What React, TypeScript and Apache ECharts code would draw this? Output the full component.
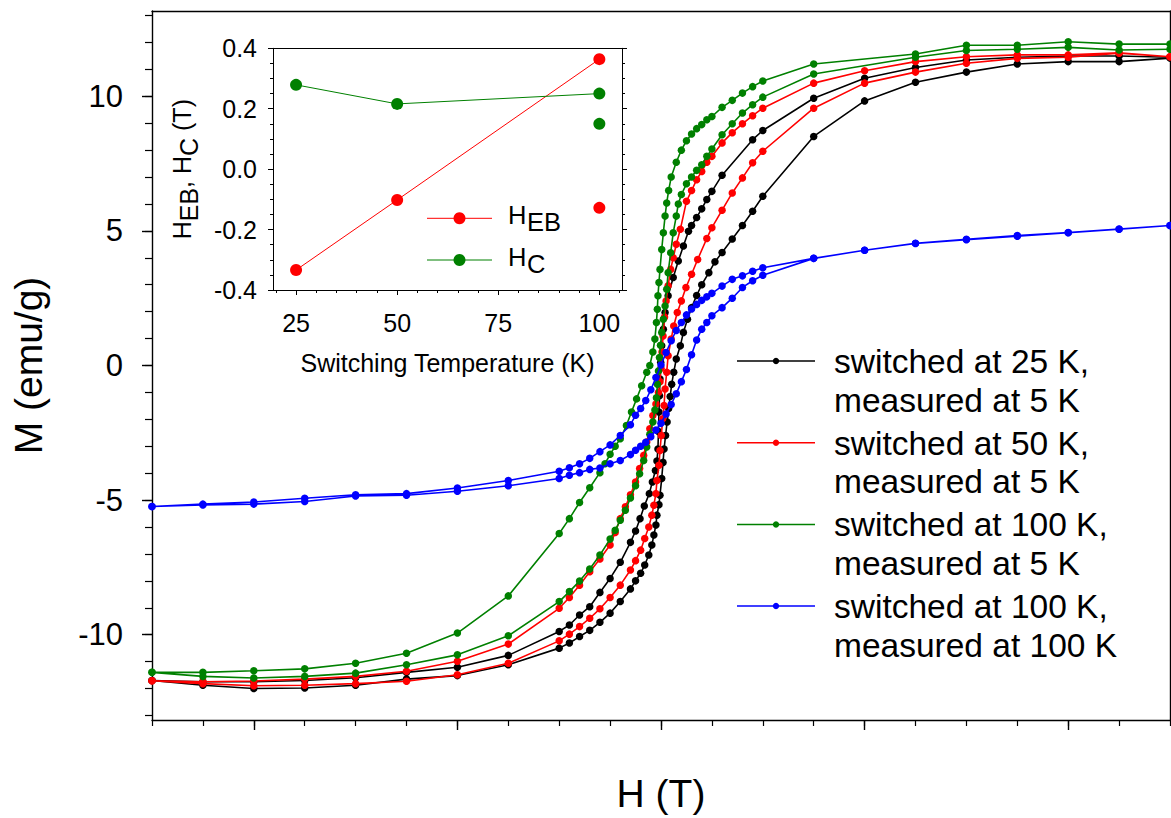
import React, { useEffect, useRef } from 'react';
import * as echarts from 'echarts';

const FONT = '"Liberation Sans", Arial, Helvetica, sans-serif';

type P = [number, number];

// ---- main plot data: H (T), M (emu/g) ----
const blackDown: P[] = [
  [5, 11.45], [4.5, 11.5], [4, 11.5], [3.5, 11.45], [3, 11.35], [2.5, 11.07], [2, 10.67], [1.5, 9.93],
  [1, 8.73], [0.9, 8.39], [0.6, 7.07], [0.5, 6.47], [0.45, 6.17], [0.4, 5.82], [0.35, 5.5], [0.3, 5.2],
  [0.27, 4.99], [0.22, 4.44], [0.17, 3.88], [0.12, 3.27], [0.07, 2.59], [0.04, 1.97], [0.023, 1.35],
  [0.007, 0.73], [-0.003, 0.12], [-0.01, -0.5], [-0.015, -1.12], [-0.02, -1.73], [-0.025, -2.45],
  [-0.03, -3.1], [-0.04, -3.55], [-0.055, -3.9], [-0.085, -4.33], [-0.115, -4.76], [-0.164, -5.22],
  [-0.206, -5.69], [-0.25, -6.15], [-0.3, -6.57], [-0.4, -7.31], [-0.5, -7.91], [-0.6, -8.43],
  [-0.7, -8.96], [-0.8, -9.27], [-0.9, -9.64], [-1, -9.88], [-1.5, -10.77], [-2, -11.21], [-2.5, -11.4],
  [-3, -11.6], [-3.5, -11.7], [-4, -11.75], [-4.5, -11.75], [-5, -11.7],
];
const blackUp: P[] = [
  [-5, -11.7], [-4.5, -11.88], [-4, -12.0], [-3.5, -11.98], [-3, -11.88], [-2.5, -11.65], [-2, -11.52],
  [-1.5, -11.12], [-1, -10.5], [-0.9, -10.31], [-0.8, -10.07], [-0.7, -9.84], [-0.6, -9.54], [-0.5, -9.2],
  [-0.4, -8.77], [-0.3, -8.3], [-0.25, -8.0], [-0.2, -7.72], [-0.16, -7.41], [-0.12, -7.04], [-0.09, -6.67],
  [-0.07, -6.3], [-0.05, -5.93], [-0.04, -5.56], [-0.02, -5.17], [-0.01, -4.82], [0.007, -4.2], [0.02, -3.6],
  [0.03, -3.1], [0.045, -2.6], [0.06, -2.1], [0.075, -1.6], [0.09, -1.15], [0.105, -0.7], [0.125, -0.25],
  [0.15, 0.24], [0.19, 0.73], [0.22, 1.23], [0.26, 1.72], [0.3, 2.15], [0.35, 2.6], [0.4, 3.0], [0.47, 3.45],
  [0.53, 3.85], [0.6, 4.2], [0.7, 4.7], [0.8, 5.2], [0.9, 5.73], [1, 6.29], [1.5, 8.51], [2, 9.83],
  [2.5, 10.52], [3, 10.9], [3.5, 11.2], [4, 11.29], [4.5, 11.29], [5, 11.42],
];
const redDown: P[] = [
  [5, 11.47], [4.5, 11.62], [4, 11.54], [3.5, 11.54], [3, 11.47], [2.5, 11.29], [2, 10.95], [1.5, 10.49],
  [1, 9.56], [0.9, 9.28], [0.8, 8.98], [0.7, 8.65], [0.6, 8.27], [0.5, 7.77], [0.45, 7.55], [0.4, 7.21],
  [0.35, 6.9], [0.3, 6.5], [0.25, 6.1], [0.19, 5.06], [0.15, 4.5], [0.12, 4.0], [0.095, 3.57], [0.07, 2.96],
  [0.05, 2.4], [0.035, 1.8], [0.02, 1.1], [0.01, 0.5], [0, -0.1], [-0.01, -0.6], [-0.025, -1.0],
  [-0.05, -1.43], [-0.08, -1.86], [-0.11, -2.35], [-0.14, -2.84], [-0.17, -3.34], [-0.21, -3.83],
  [-0.25, -4.33], [-0.3, -4.8], [-0.35, -5.25], [-0.4, -5.69], [-0.45, -6.2], [-0.5, -6.67], [-0.6, -7.19],
  [-0.7, -7.66], [-0.8, -8.16], [-0.9, -8.62], [-1, -9.02], [-1.5, -10.35], [-2, -10.99], [-2.5, -11.36],
  [-3, -11.55], [-3.5, -11.65], [-4, -11.72], [-4.5, -11.75], [-5, -11.71],
];
const redUp: P[] = [
  [-5, -11.71], [-4.5, -11.82], [-4, -11.9], [-3.5, -11.88], [-3, -11.82], [-2.5, -11.73], [-2, -11.49],
  [-1.5, -11.06], [-1, -10.23], [-0.9, -9.98], [-0.8, -9.7], [-0.7, -9.39], [-0.6, -9.04], [-0.5, -8.62],
  [-0.4, -8.16], [-0.3, -7.6], [-0.25, -7.25], [-0.2, -6.86], [-0.16, -6.43], [-0.12, -6.0], [-0.09, -5.56],
  [-0.07, -5.19], [-0.05, -4.76], [-0.04, -4.27], [-0.02, -3.71], [-0.01, -3.16], [0.003, -2.6],
  [0.017, -1.98], [0.03, -1.49], [0.04, -0.87], [0.056, -0.25], [0.07, 0.36], [0.1, 0.98], [0.125, 1.47],
  [0.16, 1.97], [0.2, 2.4], [0.245, 2.9], [0.3, 3.39], [0.36, 3.94], [0.45, 4.72], [0.5, 5.12], [0.6, 5.77],
  [0.7, 6.41], [0.8, 6.97], [0.9, 7.53], [1, 7.96], [1.5, 9.56], [2, 10.49], [2.5, 10.9], [3, 11.23],
  [3.5, 11.41], [4, 11.45], [4.5, 11.6], [5, 11.47],
];
const greenDown: P[] = [
  [5, 11.94], [4.5, 11.94], [4, 12.03], [3.5, 11.9], [3, 11.9], [2.5, 11.57], [1.5, 11.2], [1, 10.57],
  [0.9, 10.36], [0.8, 10.12], [0.7, 9.85], [0.6, 9.59], [0.5, 9.25], [0.45, 9.13], [0.4, 8.95], [0.35, 8.8],
  [0.3, 8.6], [0.25, 8.35], [0.2, 8.0], [0.15, 7.55], [0.1, 7.0], [0.075, 6.5], [0.056, 6.04], [0.04, 5.55],
  [0.023, 4.93], [0.007, 4.31], [-0.01, 3.57], [-0.02, 3.08], [-0.03, 2.59], [-0.036, 2.09], [-0.045, 1.6],
  [-0.06, 0.98], [-0.08, 0.5], [-0.11, 0], [-0.14, -0.25], [-0.19, -0.75], [-0.24, -1.24], [-0.29, -1.73],
  [-0.34, -2.23], [-0.4, -2.72], [-0.45, -3.0], [-0.5, -3.3], [-0.55, -3.65], [-0.6, -3.98], [-0.7, -4.54],
  [-0.8, -5.09], [-0.9, -5.69], [-1, -6.24], [-1.5, -8.56], [-2, -9.94], [-2.5, -10.69], [-3, -11.06],
  [-3.5, -11.27], [-4, -11.34], [-4.5, -11.4], [-5, -11.4],
];
const greenUp: P[] = [
  [-5, -11.4], [-4.5, -11.55], [-4, -11.61], [-3.5, -11.55], [-3, -11.43], [-2.5, -11.12], [-2, -10.75],
  [-1.5, -10.04], [-1, -8.77], [-0.9, -8.4], [-0.8, -8.01], [-0.7, -7.56], [-0.6, -7.04], [-0.5, -6.45],
  [-0.45, -6.12], [-0.4, -5.75], [-0.35, -5.38], [-0.3, -4.92], [-0.25, -4.47], [-0.21, -4.02],
  [-0.17, -3.53], [-0.14, -3.03], [-0.11, -2.55], [-0.08, -2.1], [-0.06, -1.65], [-0.045, -1.2],
  [-0.035, -0.7], [-0.025, -0.2], [-0.015, 0.3], [-0.005, 0.75], [0.007, 1.23], [0.023, 1.72], [0.04, 2.21],
  [0.056, 2.83], [0.07, 3.45], [0.095, 4.19], [0.12, 4.93], [0.15, 5.55], [0.17, 6.0], [0.2, 6.35],
  [0.25, 6.75], [0.3, 7.0], [0.35, 7.25], [0.4, 7.46], [0.45, 7.77], [0.5, 8.04], [0.6, 8.57], [0.7, 8.98],
  [0.8, 9.38], [0.9, 9.69], [1, 9.97], [1.5, 10.83], [2.5, 11.45], [3, 11.7], [3.5, 11.75], [4, 11.82],
  [4.5, 11.72], [5, 11.75],
];
const blueDown: P[] = [
  [5, 5.2], [4.5, 5.06], [4, 4.93], [3.5, 4.8], [3, 4.67], [2.5, 4.53], [2, 4.28], [1.5, 3.98], [1, 3.63],
  [0.9, 3.5], [0.8, 3.33], [0.7, 3.2], [0.6, 2.95], [0.5, 2.68], [0.45, 2.55], [0.4, 2.42], [0.35, 2.27],
  [0.3, 2.1], [0.25, 1.88], [0.2, 1.6], [0.15, 1.3], [0.1, 0.92], [0.05, 0.48], [0, 0.02], [-0.05, -0.45],
  [-0.1, -0.9], [-0.15, -1.3], [-0.2, -1.6], [-0.25, -1.85], [-0.3, -2.2], [-0.4, -2.6], [-0.5, -2.95],
  [-0.6, -3.2], [-0.7, -3.45], [-0.8, -3.65], [-0.9, -3.8], [-1, -3.93], [-1.5, -4.27], [-2, -4.55],
  [-2.5, -4.76], [-3, -4.8], [-3.5, -4.93], [-4, -5.07], [-4.5, -5.15], [-5, -5.24],
];
const blueUp: P[] = [
  [-5, -5.24], [-4.5, -5.18], [-4, -5.15], [-3.5, -5.05], [-3, -4.85], [-2.5, -4.82], [-2, -4.67],
  [-1.5, -4.47], [-1, -4.2], [-0.9, -4.08], [-0.8, -3.98], [-0.7, -3.86], [-0.6, -3.81], [-0.5, -3.65],
  [-0.4, -3.53], [-0.3, -3.31], [-0.25, -3.15], [-0.2, -3.0], [-0.15, -2.85], [-0.1, -2.65], [-0.05, -2.4],
  [0, -2.15], [0.05, -1.8], [0.1, -1.45], [0.15, -1.05], [0.2, -0.6], [0.25, -0.15], [0.3, 0.4],
  [0.35, 0.95], [0.4, 1.35], [0.45, 1.6], [0.5, 1.85], [0.6, 2.15], [0.7, 2.5], [0.8, 2.9], [0.9, 3.15],
  [1, 3.35], [1.5, 3.98], [2, 4.28], [2.5, 4.54], [3, 4.69], [3.5, 4.83], [4, 4.94], [4.5, 5.07], [5, 5.2],
];

const legendLine1 = ['switched at 25 K,', 'switched at 50 K,', 'switched at 100 K,', 'switched at 100 K,'];
const legendLine2 = ['measured at 5 K', 'measured at 5 K', 'measured at 5 K', 'measured at 100 K'];
const seriesColors = ['#000000', '#ff0000', '#008000', '#0000ff'];
const loops: P[][] = [
  [...blackDown, ...blackUp],
  [...redDown, ...redUp],
  [...greenDown, ...greenUp],
  [...blueDown, ...blueUp],
];

const mainXMajor = [-4, -2, 0, 2, 4];
const mainYMajor = [-10, -5, 0, 5, 10];
const mainYMinor = [-13, -12, -11, -10, -9, -8, -7, -6, -5, -4, -3, -2, -1, 0, 1, 2, 3, 4, 5, 6, 7, 8, 9, 10, 11, 12, 13];

// ---- inset data ----
const insetT = [25, 50, 100];
const hebLine = [-0.334, -0.102, 0.364];
const hcLine = [0.279, 0.216, 0.25];
const hebExtra: P[] = [[100, -0.128]];
const hcExtra: P[] = [[100, 0.15]];
const insetXMajor = [25, 50, 75, 100];
const insetXMinor = [20, 25, 30, 35, 40, 45, 50, 55, 60, 65, 70, 75, 80, 85, 90, 95, 100, 105];

const BLACK = '#000';
const line = (w: number) => ({ onZero: false, lineStyle: { color: BLACK, width: w } });

export default function App() {
  const ref = useRef<HTMLDivElement>(null);
  useEffect(() => {
    if (!ref.current) return;
    const chart = echarts.init(ref.current, undefined, { renderer: 'svg' });

    const mainLegend: any[] = [];
    legendLine1.forEach((t, i) => {
      const y = 361 + 81.7 * i;
      mainLegend.push({ type: 'line', shape: { x1: 737, y1: y, x2: 815, y2: y }, style: { stroke: seriesColors[i], lineWidth: 1.5 }, silent: true });
      mainLegend.push({ type: 'circle', shape: { cx: 776, cy: y, r: 3.2 }, style: { fill: seriesColors[i] }, silent: true });
      mainLegend.push({ type: 'text', x: 834, y: y + 0.5, style: { text: t, fontSize: 33.5, fontFamily: FONT, fill: BLACK, verticalAlign: 'middle', align: 'left' }, silent: true });
      mainLegend.push({ type: 'text', x: 834, y: y + 39, style: { text: legendLine2[i], fontSize: 33.5, fontFamily: FONT, fill: BLACK, verticalAlign: 'middle', align: 'left' }, silent: true });
    });

    const insetLegendRows = [
      { y: 218.3, color: '#ff0000', sub: 'EB' },
      { y: 260, color: '#008000', sub: 'C' },
    ];
    const insetLegend: any[] = [];
    insetLegendRows.forEach((r) => {
      insetLegend.push({ type: 'line', shape: { x1: 427, y1: r.y, x2: 492, y2: r.y }, style: { stroke: r.color, lineWidth: 1 }, silent: true });
      insetLegend.push({ type: 'circle', shape: { cx: 459.5, cy: r.y, r: 6 }, style: { fill: r.color }, silent: true });
      insetLegend.push({ type: 'text', x: 508, y: r.y - 3.5, style: { text: 'H', fontSize: 25.5, fontFamily: FONT, fill: BLACK, verticalAlign: 'middle', align: 'left' }, silent: true });
      insetLegend.push({ type: 'text', x: 527, y: r.y + 3.8, style: { text: r.sub, fontSize: 25.5, fontFamily: FONT, fill: BLACK, verticalAlign: 'middle', align: 'left' }, silent: true });
    });

    const option: any = {
      animation: false,
      textStyle: { fontFamily: FONT, color: BLACK },
      grid: [
        { left: 152, top: 11, width: 1018, height: 711 },
        { left: 273, top: 48.3, width: 349, height: 241.7 },
      ],
      xAxis: [
        {
          type: 'value', gridIndex: 0, position: 'bottom', min: -5, max: 5,
          axisLine: line(1.4),
          axisTick: { show: true, customValues: mainXMajor, length: 10, lineStyle: { color: BLACK, width: 1.4 } },
          axisLabel: { show: false }, splitLine: { show: false },
          name: 'H (T)', nameLocation: 'middle', nameGap: 54,
          nameTextStyle: { fontSize: 39, fontFamily: FONT, color: BLACK },
        },
        {
          type: 'value', gridIndex: 0, position: 'bottom', min: -5, max: 5, interval: 0.5,
          axisLine: { show: false, onZero: false },
          axisTick: { show: true, length: 6, lineStyle: { color: BLACK, width: 1.2 } },
          axisLabel: { show: false }, splitLine: { show: false },
        },
        {
          type: 'value', gridIndex: 0, position: 'top', min: -5, max: 5,
          axisLine: line(1.4), axisTick: { show: false }, axisLabel: { show: false }, splitLine: { show: false },
        },
        {
          type: 'value', gridIndex: 1, position: 'bottom', min: 19.3, max: 105.6,
          axisLine: line(1),
          axisTick: { show: true, customValues: insetXMajor, length: 5, lineStyle: { color: BLACK, width: 1 } },
          axisLabel: { show: true, customValues: insetXMajor, fontSize: 25, fontFamily: FONT, color: BLACK, margin: 20 },
          splitLine: { show: false },
          name: 'Switching Temperature (K)', nameLocation: 'middle', nameGap: 60,
          nameTextStyle: { fontSize: 25, fontFamily: FONT, color: BLACK },
        },
        {
          type: 'value', gridIndex: 1, position: 'bottom', min: 19.3, max: 105.6,
          axisLine: { show: false, onZero: false },
          axisTick: { show: true, customValues: insetXMinor, length: 3, lineStyle: { color: BLACK, width: 1 } },
          axisLabel: { show: false }, splitLine: { show: false },
        },
        {
          type: 'value', gridIndex: 1, position: 'top', min: 19.3, max: 105.6,
          axisLine: line(1), axisTick: { show: false }, axisLabel: { show: false }, splitLine: { show: false },
        },
      ],
      yAxis: [
        {
          type: 'value', gridIndex: 0, position: 'left', min: -13.17, max: 13.17,
          axisLine: line(1.4),
          axisTick: { show: true, customValues: mainYMajor, length: 10, lineStyle: { color: BLACK, width: 1.4 } },
          axisLabel: { show: true, customValues: mainYMajor, fontSize: 31, fontFamily: FONT, color: BLACK, margin: 29 },
          splitLine: { show: false },
          name: 'M (emu/g)', nameLocation: 'middle', nameGap: 104, nameRotate: 90,
          nameTextStyle: { fontSize: 39, fontFamily: FONT, color: BLACK },
        },
        {
          type: 'value', gridIndex: 0, position: 'left', min: -13.17, max: 13.17,
          axisLine: { show: false, onZero: false },
          axisTick: { show: true, customValues: mainYMinor, length: 7, lineStyle: { color: BLACK, width: 1.2 } },
          axisLabel: { show: false }, splitLine: { show: false },
        },
        {
          type: 'value', gridIndex: 0, position: 'right', min: -13.17, max: 13.17,
          axisLine: line(1.4), axisTick: { show: false }, axisLabel: { show: false }, splitLine: { show: false },
        },
        {
          type: 'value', gridIndex: 1, position: 'left', min: -0.4, max: 0.4, interval: 0.2,
          axisLine: line(1),
          axisTick: { show: true, length: 5, lineStyle: { color: BLACK, width: 1 } },
          minorTick: { show: true, splitNumber: 4, length: 3, lineStyle: { color: BLACK, width: 1 } },
          axisLabel: {
            show: true, fontSize: 25, fontFamily: FONT, color: BLACK, margin: 16,
            formatter: (v: number) => (Math.abs(v) < 1e-9 ? '0.0' : v.toFixed(1)),
          },
          splitLine: { show: false }, minorSplitLine: { show: false },
          name: '{a|H}{b|EB}{a|, H}{b|C}{a| (T)}', nameLocation: 'middle', nameGap: 72, nameRotate: 90,
          nameTextStyle: {
            fontSize: 25, fontFamily: FONT, color: BLACK,
            rich: {
              a: { fontSize: 25, fontFamily: FONT, color: BLACK },
              b: { fontSize: 25, fontFamily: FONT, color: BLACK, padding: [14, 0, 0, 0] },
            },
          },
        },
        {
          type: 'value', gridIndex: 1, position: 'right', min: -0.4, max: 0.4, interval: 0.2,
          axisLine: line(1),
          axisTick: { show: true, length: 5, lineStyle: { color: BLACK, width: 1 } },
          minorTick: { show: true, splitNumber: 4, length: 3, lineStyle: { color: BLACK, width: 1 } },
          axisLabel: { show: false }, splitLine: { show: false }, minorSplitLine: { show: false },
        },
      ],
      series: [
        ...loops.map((d, i) => ({
          type: 'line', name: legendLine1[i] + ' ' + legendLine2[i], xAxisIndex: 0, yAxisIndex: 0,
          data: d, symbol: 'circle', symbolSize: 7.5, showSymbol: true,
          lineStyle: { color: seriesColors[i], width: 1.6 }, itemStyle: { color: seriesColors[i], opacity: 1 },
          z: 2 + i, silent: true,
        })),
        {
          type: 'line', name: 'HEB', xAxisIndex: 3, yAxisIndex: 3,
          data: insetT.map((t, i) => [t, hebLine[i]]), symbol: 'circle', symbolSize: 12,
          lineStyle: { color: '#ff0000', width: 1 }, itemStyle: { color: '#ff0000', opacity: 1 }, z: 10, silent: true,
        },
        {
          type: 'scatter', name: 'HEB extra', xAxisIndex: 3, yAxisIndex: 3, data: hebExtra,
          symbol: 'circle', symbolSize: 12, itemStyle: { color: '#ff0000', opacity: 1 }, z: 10, silent: true,
        },
        {
          type: 'line', name: 'HC', xAxisIndex: 3, yAxisIndex: 3,
          data: insetT.map((t, i) => [t, hcLine[i]]), symbol: 'circle', symbolSize: 12,
          lineStyle: { color: '#008000', width: 1 }, itemStyle: { color: '#008000', opacity: 1 }, z: 10, silent: true,
        },
        {
          type: 'scatter', name: 'HC extra', xAxisIndex: 3, yAxisIndex: 3, data: hcExtra,
          symbol: 'circle', symbolSize: 12, itemStyle: { color: '#008000', opacity: 1 }, z: 10, silent: true,
        },
      ],
      graphic: [...mainLegend, ...insetLegend],
    };
    chart.setOption(option);
    return () => chart.dispose();
  }, []);
  return <div ref={ref} style={{ position: 'absolute', left: 0, top: 0, width: 1171, height: 818, background: '#fff' }} />;
}
